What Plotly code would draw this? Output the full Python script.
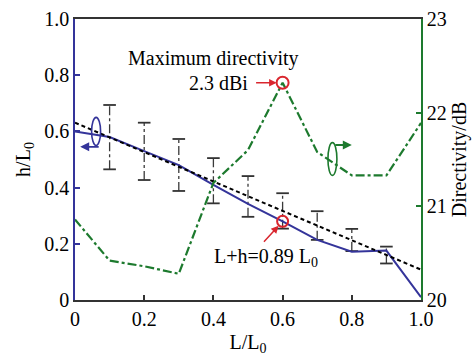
import plotly.graph_objects as go

# ---- data ----
L_ratio = [0.0, 0.1, 0.2, 0.3, 0.4, 0.5, 0.6, 0.7, 0.8, 0.9, 1.0]
h_ratio = [0.60, 0.58, 0.53, 0.48, 0.41, 0.342, 0.28, 0.214, 0.172, 0.176, 0.01]
directivity_db = [20.86, 20.42, 20.36, 20.28, 21.25, 21.60, 22.32, 21.58, 21.33, 21.33, 21.89]

fit_L = [0.0, 1.0]
fit_h = [0.631, 0.108]

err_L = [0.1, 0.2, 0.3, 0.4, 0.5, 0.6, 0.7, 0.8, 0.9]
err_top = [0.694, 0.631, 0.573, 0.505, 0.441, 0.38, 0.316, 0.253, 0.19]
err_bottom = [0.465, 0.427, 0.388, 0.344, 0.296, 0.254, 0.214, 0.174, 0.13]

x_ticks = [0, 0.2, 0.4, 0.6, 0.8, 1.0]
x_ticktext = ["0", "0.2", "0.4", "0.6", "0.8", "1.0"]
y_ticks = [0, 0.2, 0.4, 0.6, 0.8, 1.0]
y_ticktext = ["0", "0.2", "0.4", "0.6", "0.8", "1.0"]
y2_ticks = [20, 21, 22, 23]

peak_idx = 6

BLUE = "#34349a"
GREEN = "#1d7a2e"
RED = "#d9262e"
FONT = "Liberation Serif"
FS = 20
TXT = dict(family=FONT, size=FS, color="black")

L, R, T, B = 75, 55, 19, 56
W, H = 476, 356
pw, ph = W - L - R, H - T - B


def px_x(v):
    return (v - L) / pw


def px_y(v):
    return (H - v - B) / ph


fig = go.Figure()

# error bars (dash-dot lines)
ex, ey = [], []
for xv, t, b in zip(err_L, err_top, err_bottom):
    ex += [xv, xv, None]
    ey += [b, t, None]
fig.add_trace(go.Scatter(x=ex, y=ey, mode="lines",
                         line=dict(color="#3a3a3a", width=1.3, dash="dashdot"),
                         hoverinfo="skip", showlegend=False))
fig.add_trace(go.Scatter(x=err_L + err_L, y=err_top + err_bottom, mode="markers",
                         marker=dict(symbol="line-ew", size=9, color="#333333",
                                     line=dict(color="#333333", width=1.8)),
                         showlegend=False))

# blue h/L0 line
fig.add_trace(go.Scatter(x=L_ratio, y=h_ratio, mode="lines",
                         line=dict(color=BLUE, width=2), showlegend=False))
# fit dashed line
fig.add_trace(go.Scatter(x=fit_L, y=fit_h, mode="lines",
                         line=dict(color="black", width=2, dash="4px,3px"), showlegend=False))
# directivity
fig.add_trace(go.Scatter(x=L_ratio, y=directivity_db, mode="lines", yaxis="y2",
                         line=dict(color=GREEN, width=2.2, dash="dashdot"), showlegend=False))

# red circles
fig.add_trace(go.Scatter(x=[L_ratio[peak_idx]], y=[directivity_db[peak_idx]], yaxis="y2",
                         mode="markers",
                         marker=dict(symbol="circle-open", size=12, color=RED,
                                     line=dict(color=RED, width=2)),
                         showlegend=False))
fig.add_trace(go.Scatter(x=[L_ratio[peak_idx]], y=[h_ratio[peak_idx]],
                         mode="markers",
                         marker=dict(symbol="circle-open", size=11, color=RED,
                                     line=dict(color=RED, width=2)),
                         showlegend=False))

# ellipses indicating axes
fig.add_shape(type="circle", xref="x", yref="y", x0=0.048, x1=0.074, y0=0.55, y1=0.65,
              line=dict(color=BLUE, width=1.6))
fig.add_shape(type="circle", xref="x", yref="y2", x0=0.731, x1=0.757, y0=21.33, y1=21.68,
              line=dict(color=GREEN, width=1.6))

annotations = [
    dict(x=0.015, y=0.545, xref="x", yref="y", ax=20, ay=0, text="", showarrow=True,
         arrowhead=2, arrowsize=1, arrowwidth=1.8, arrowcolor=BLUE),
    dict(x=0.80, y=21.655, xref="x", yref="y2", ax=-18, ay=0, text="", showarrow=True,
         arrowhead=2, arrowsize=1, arrowwidth=1.8, arrowcolor=GREEN),
    dict(x=L_ratio[peak_idx], y=directivity_db[peak_idx], xref="x", yref="y2", ax=-28, ay=0,
         text="", showarrow=True, arrowhead=2, arrowsize=1, arrowwidth=1.5,
         arrowcolor=RED, standoff=6),
    dict(x=L_ratio[peak_idx], y=h_ratio[peak_idx], xref="x", yref="y", ax=-20, ay=22,
         text="", showarrow=True, arrowhead=2, arrowsize=1, arrowwidth=1.5,
         arrowcolor=RED, standoff=6),
    dict(x=px_x(213), y=px_y(58), xref="paper", yref="paper", text="Maximum directivity",
         showarrow=False, font=TXT, xanchor="center", yanchor="middle"),
    dict(x=px_x(218), y=px_y(83), xref="paper", yref="paper", text="2.3 dBi",
         showarrow=False, font=TXT, xanchor="center", yanchor="middle"),
    dict(x=px_x(266), y=px_y(257), xref="paper", yref="paper", text="L+h=0.89 L<sub>0</sub>",
         showarrow=False, font=TXT, xanchor="center", yanchor="middle"),
]

fig.update_layout(
    width=W, height=H,
    margin=dict(l=L, r=R, t=T, b=B, autoexpand=False),
    paper_bgcolor="white", plot_bgcolor="white",
    font=TXT,
    annotations=annotations,
    xaxis=dict(range=[0, 1], tickvals=x_ticks, ticktext=x_ticktext, automargin=False,
               showgrid=False, zeroline=False, showline=True, linecolor="#333333",
               linewidth=1.5, mirror=True, ticks="inside", ticklen=5, tickcolor="#333333",
               tickwidth=1.5, tickfont=TXT,
               title=dict(text="L/L<sub>0</sub>", standoff=10, font=TXT)),
    yaxis=dict(range=[0, 1], tickvals=y_ticks, ticktext=y_ticktext, automargin=False,
               showgrid=False, zeroline=False, showline=True, linecolor=BLUE,
               linewidth=1.5, ticks="inside", ticklen=5, tickcolor=BLUE, tickwidth=1.5,
               tickfont=TXT,
               title=dict(text="h/L<sub>0</sub>", standoff=8, font=TXT)),
    yaxis2=dict(range=[20, 23], tickvals=y2_ticks, overlaying="y", side="right",
                automargin=False,
                showgrid=False, zeroline=False, showline=True, linecolor=GREEN,
                linewidth=1.5, ticks="inside", ticklen=5, tickcolor=GREEN, tickwidth=1.5,
                tickfont=TXT,
                title=dict(text="Directivity/dB", standoff=6, font=TXT)),
)

fig.write_html("out.html", config={"displayModeBar": False},
               post_script="document.body.style.margin='0';document.body.style.padding='0';")
